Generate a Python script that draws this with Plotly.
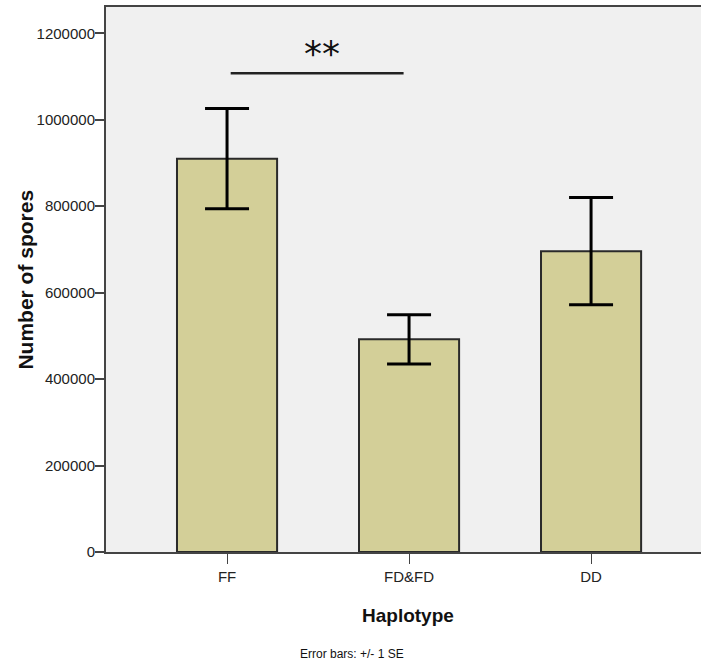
import plotly.graph_objects as go

categories = ["FF", "FD&FD", "DD"]
mean_spores = [910000, 492000, 696000]
se_spores = [116000, 57000, 124000]
y_ticks = [0, 200000, 400000, 600000, 800000, 1000000, 1200000]
sig_level = 1108000
sig_label = "**"

fig = go.Figure()
fig.add_trace(go.Bar(
    x=[0, 1, 2], y=mean_spores, width=0.55,
    marker=dict(color="#d3cf98", line=dict(color="#2a2a2a", width=2)),
    error_y=dict(type="data", array=se_spores, visible=True,
                 color="#000000", thickness=3, width=22),
    showlegend=False,
))

# significance bracket between FF and FD&FD
fig.add_shape(type="line", xref="x", yref="y", x0=0.02, x1=0.97,
              y0=sig_level, y1=sig_level, line=dict(color="#222", width=2.5))
fig.add_annotation(x=0.52, y=sig_level, xref="x", yref="y", text=sig_label,
                   showarrow=False, yanchor="middle", yshift=20,
                   font=dict(family="DejaVu Sans", size=36, color="#111"))

tick_font = dict(family="Liberation Sans", size=15, color="#222")
fig.update_xaxes(
    range=[-0.665, 2.604], tickmode="array", tickvals=[0, 1, 2], ticktext=categories,
    ticks="outside", ticklen=10, tickcolor="#444", tickwidth=1,
    showline=True, linecolor="#444", linewidth=2, mirror=True,
    showgrid=False, zeroline=False, tickfont=tick_font,
)
fig.update_yaxes(
    range=[0, 1261000], tickmode="array", tickvals=y_ticks,
    ticktext=[str(v) for v in y_ticks],
    ticks="outside", ticklen=9, tickcolor="#444", tickwidth=2,
    showline=True, linecolor="#444", linewidth=2,
    showgrid=False, zeroline=False, tickfont=tick_font, ticklabelstandoff=-3,
)

fig.add_annotation(text="<b>Number of spores</b>", xref="paper", yref="paper",
                   x=-0.136, y=0.5, showarrow=False, textangle=-90,
                   font=dict(family="Liberation Sans", size=21, color="#111"),
                   xanchor="center", yanchor="middle")
fig.add_annotation(text="<b>Haplotype</b>", xref="paper", yref="paper",
                   x=(408 - 106) / 595, y=(552 - 615) / 545, showarrow=False,
                   font=dict(family="Liberation Sans", size=19, color="#111"),
                   xanchor="center", yanchor="middle")
fig.add_annotation(text="Error bars: +/- 1 SE", xref="paper", yref="paper",
                   x=(352 - 106) / 595, y=(552 - 654) / 545, showarrow=False,
                   font=dict(family="Liberation Sans", size=12, color="#111"),
                   xanchor="center", yanchor="middle")

fig.update_layout(
    width=701, height=662,
    margin=dict(l=106, r=0, t=7, b=110),
    plot_bgcolor="#f0f0f0", paper_bgcolor="#ffffff",
    bargap=0.45,
)
fig.write_html("out.html")
